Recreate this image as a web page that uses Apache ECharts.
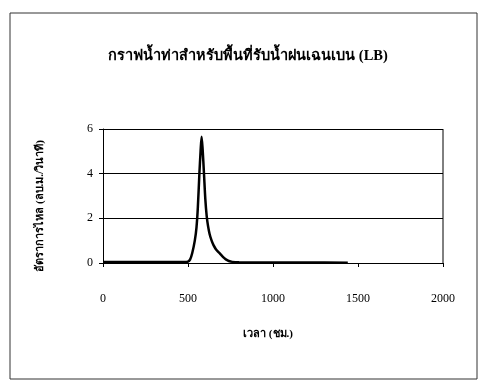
<!DOCTYPE html>
<html><head><meta charset="utf-8">
<script src="https://cdn.jsdelivr.net/npm/echarts@6/dist/echarts.min.js"></script>
<style>html,body{margin:0;padding:0;background:#fff}#c{width:481px;height:389px}</style>
</head><body><div id="c"></div>
<script>
const titleText = 'กราฟน้ำท่าสำหรับพื้นที่รับน้ำฝนเฉนเบน (LB)';
const xName = 'เวลา (ชม.)';
const yName = 'อัตราการไหล (ลบ.ม./วินาที)';
const xTicks = [0, 500, 1000, 1500, 2000];
const yTicks = [0, 2, 4, 6];
const timeHrs = [0, 100, 200, 300, 400, 480, 500, 512, 525, 540, 550, 558, 567, 574, 580, 586, 594, 602, 610, 618, 627, 639, 650, 663, 675, 688, 700, 712, 725, 740, 760, 800, 1000, 1200, 1440];
const flowCms = [0.05, 0.05, 0.05, 0.04, 0.04, 0.04, 0.06, 0.15, 0.45, 1.0, 1.6, 2.5, 4.0, 5.0, 5.65, 5.1, 4.0, 2.85, 2.1, 1.65, 1.3, 1.0, 0.8, 0.63, 0.52, 0.42, 0.32, 0.23, 0.15, 0.09, 0.05, 0.03, 0.02, 0.02, 0.01];

const serif = "'Liberation Serif','DejaVu Serif','Noto Sans',serif";
const chart = echarts.init(document.getElementById('c'), null, {renderer: 'canvas'});
chart.setOption({
  animation: false,
  backgroundColor: '#fff',
  grid: {left: 103, right: 38, top: 129, bottom: 126},
  xAxis: {
    type: 'value', min: xTicks[0], max: xTicks[xTicks.length - 1], interval: 500,
    axisLine: {show: true, lineStyle: {color: '#000', width: 1}},
    axisTick: {show: true, length: 4, inside: false, lineStyle: {color: '#000'}},
    axisLabel: {margin: 30, color: '#000', fontFamily: serif, fontSize: 12, formatter: v => String(v)},
    splitLine: {show: false}
  },
  yAxis: {
    type: 'value', min: yTicks[0], max: yTicks[yTicks.length - 1], interval: 2,
    axisLine: {show: true, lineStyle: {color: '#000', width: 1}},
    axisTick: {show: true, length: 4, lineStyle: {color: '#000'}},
    axisLabel: {margin: 10, color: '#000', fontFamily: serif, fontSize: 12, formatter: v => String(v)},
    splitLine: {show: true, lineStyle: {color: '#000', width: 1}}
  },
  series: [{
    type: 'line',
    data: timeHrs.map((t, i) => [t, flowCms[i]]),
    showSymbol: false,
    smooth: 0.3,
    lineStyle: {color: '#000', width: 2.5},
    z: 5
  }],
  graphic: [
    {type: 'rect', shape: {x: 10, y: 13, width: 467, height: 366}, style: {fill: 'none', stroke: '#333', lineWidth: 1}, silent: true},
    {type: 'line', shape: {x1: 443, y1: 129, x2: 443, y2: 263}, style: {stroke: '#000', lineWidth: 1}},
    {type: 'text', x: 248, y: 56, style: {text: titleText, fontFamily: serif, fontWeight: 'bold', fontSize: 14.5, fill: '#000', align: 'center', verticalAlign: 'middle'}},
    {type: 'text', x: 268, y: 334, style: {text: xName, fontFamily: serif, fontWeight: 'bold', fontSize: 11, fill: '#000', align: 'center', verticalAlign: 'middle'}},
    {type: 'text', x: 40, y: 206, rotation: Math.PI / 2, style: {text: yName, fontFamily: serif, fontWeight: 'bold', fontSize: 11, fill: '#000', align: 'center', verticalAlign: 'middle'}}
  ]
});
</script></body></html>
